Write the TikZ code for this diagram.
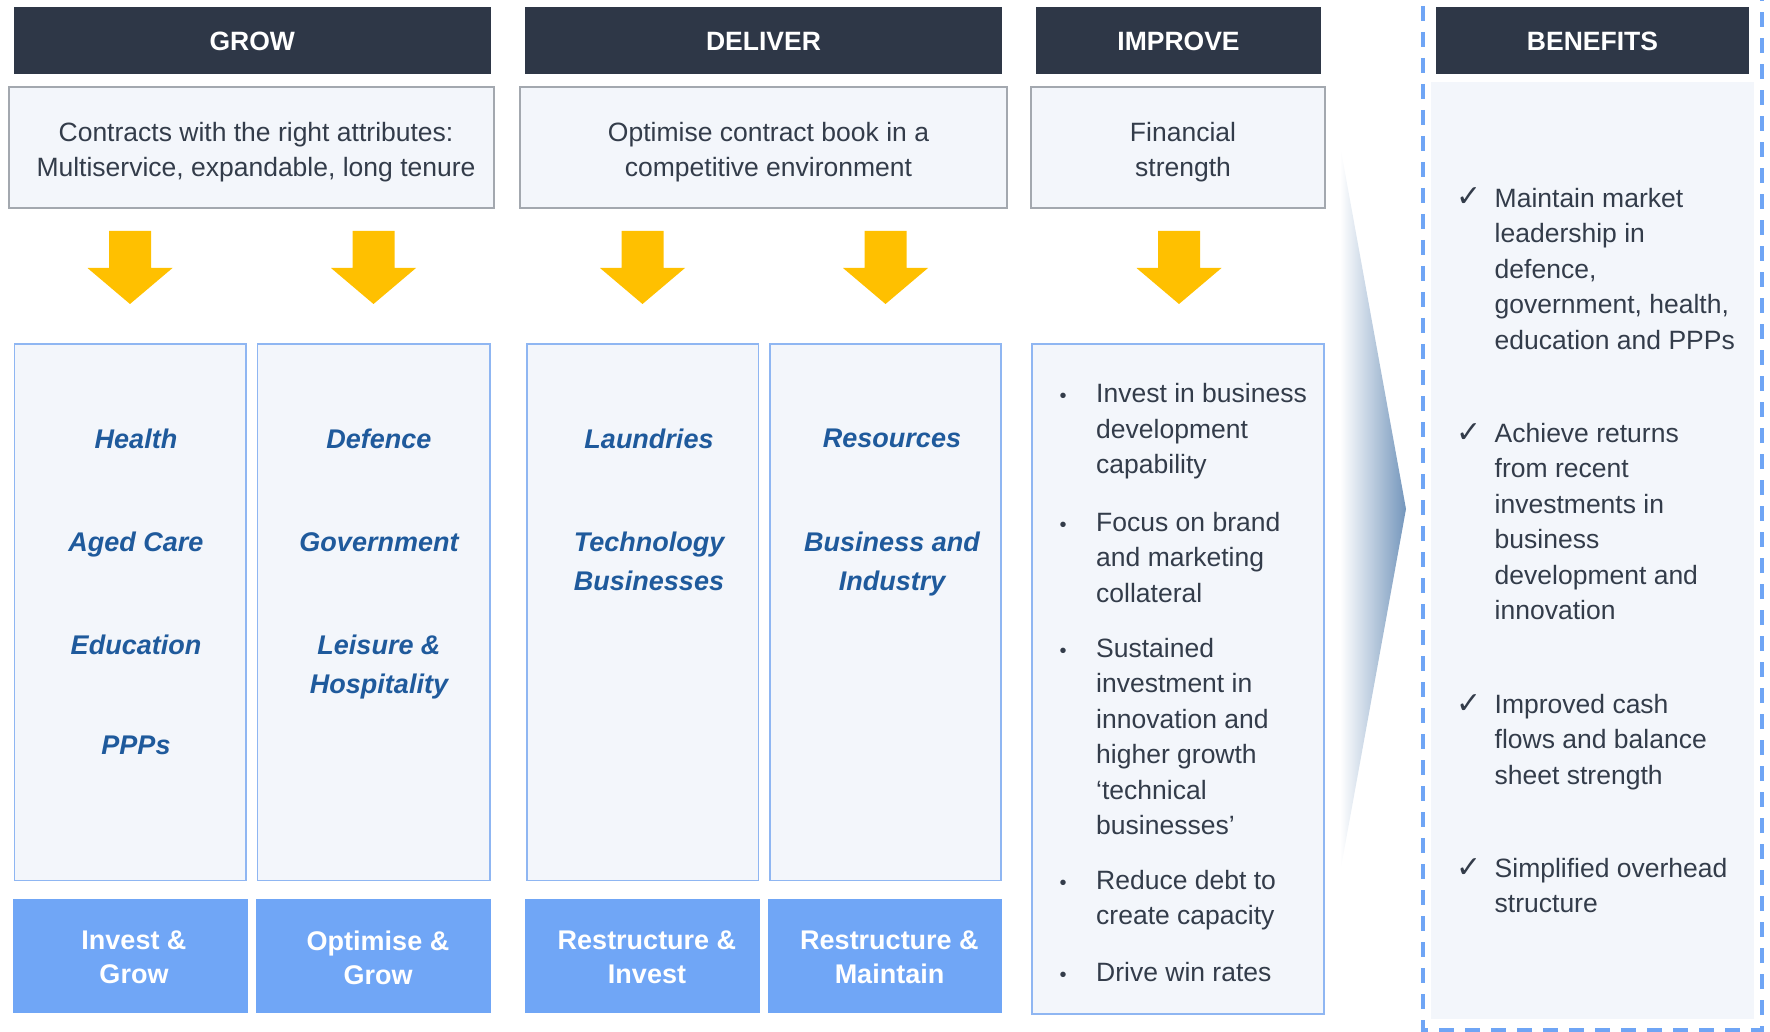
\documentclass[tikz,border=0pt]{standalone}
\usepackage{fontspec}
\setmainfont{Liberation Sans}
\newfontfamily\symfont{DejaVu Sans}

\definecolor{headbg}{HTML}{2E3747}
\definecolor{pale}{HTML}{F3F6FB}
\definecolor{greyline}{HTML}{A3A8AF}
\definecolor{boxline}{HTML}{8FB6F2}
\definecolor{gold}{HTML}{FFC000}
\definecolor{footblue}{HTML}{70A6F6}
\definecolor{ink}{HTML}{333C4A}
\definecolor{itemblue}{HTML}{1F5A9C}
\definecolor{dashblue}{HTML}{6FA5F5}
\definecolor{chevblue}{HTML}{7496BC}

\begin{document}
\begin{tikzpicture}[x=1pt, y=-1pt,
    every node/.style={inner sep=0pt, text=ink, font=\fontsize{26.5}{35.4}\selectfont},
    headtext/.style={text=white, font=\fontsize{26.5}{30}\selectfont\bfseries},
    subtext/.style={align=center, font=\fontsize{26.5}{34.4}\selectfont},
    sector/.style={anchor=north, align=center, text=itemblue, font=\fontsize{27}{38.3}\selectfont\bfseries\itshape},
    foottext/.style={align=center, text=white, font=\fontsize{27}{34}\selectfont\bfseries},
    pointtext/.style={anchor=north west, align=left},
    bulletdot/.style={anchor=base, font=\fontsize{20}{20}\selectfont},
    checkmk/.style={anchor=base, font=\fontsize{30}{30}\selectfont\symfont}]
  \useasboundingbox (0,0) rectangle (1770,1032);

  % benefits panel with dashed frame
  \fill[pale] (1431,82) rectangle (1754,1019);
  \draw[dashblue, line width=3.5, dash pattern=on 15 off 11] (1423,-20) rectangle (1762,1030);

  % fading chevron into the panel
  \shade[left color=white, right color=chevblue] (1340,145) -- (1406,509) -- (1340,873) -- cycle;

  % header bars
  \fill[headbg] (13.5,7) rectangle (491,74.5);
  \fill[headbg] (525,7) rectangle (1002,74.5);
  \fill[headbg] (1036,7) rectangle (1321,74.5);
  \fill[headbg] (1436,7) rectangle (1749,74.5);
  \node[headtext] (grow) at (252.25,41.5) {GROW};
  \node[headtext] (deliver) at (763.5,41.5) {DELIVER};
  \node[headtext] (improve) at (1178.5,41.5) {IMPROVE};
  \node[headtext] (benefits) at (1592.5,41.5) {BENEFITS};

  % aims
  \draw[greyline, fill=pale, line width=1.2] (9,87) rectangle (494,208);
  \draw[greyline, fill=pale, line width=1.2] (520,87) rectangle (1007,208);
  \draw[greyline, fill=pale, line width=1.2] (1031,87) rectangle (1325,208);
  \node[subtext] (growsub) at (256,152) {Contracts with the right attributes:\\Multiservice, expandable, long tenure};
  \node[subtext] (deliversub) at (768.5,152) {Optimise contract book in a\\competitive environment};
  \node[subtext] (improvesub) at (1183,152) {Financial\\strength};

  % down arrows
  \fill[gold] (109,231) -- (151,231) -- (151,268) -- (172.5,268) -- (130,304) -- (87.5,268) -- (109,268) -- cycle;
  \fill[gold] (352.5,231) -- (394.5,231) -- (394.5,268) -- (416,268) -- (373.5,304) -- (331,268) -- (352.5,268) -- cycle;
  \fill[gold] (621.5,231) -- (663.5,231) -- (663.5,268) -- (685,268) -- (642.5,304) -- (600,268) -- (621.5,268) -- cycle;
  \fill[gold] (864.5,231) -- (906.5,231) -- (906.5,268) -- (928,268) -- (885.5,304) -- (843,268) -- (864.5,268) -- cycle;
  \fill[gold] (1158,231) -- (1200,231) -- (1200,268) -- (1221.5,268) -- (1179,304) -- (1136.5,268) -- (1158,268) -- cycle;

  % sector columns
  \draw[boxline, fill=pale, line width=1.5] (14.5,344) rectangle (246,880.5);
  \draw[boxline, fill=pale, line width=1.5] (257.5,344) rectangle (490,880.5);
  \draw[boxline, fill=pale, line width=1.5] (527,344) rectangle (758.5,880.5);
  \draw[boxline, fill=pale, line width=1.5] (770,344) rectangle (1001,880.5);
  \draw[boxline, fill=pale, line width=1.5] (1032,344) rectangle (1324,1014);

  \node[sector] (health) at (136,429) {Health};
  \node[sector] (agedcare) at (136,532) {Aged Care};
  \node[sector] (education) at (136,635) {Education};
  \node[sector] (ppps) at (136,736) {PPPs};
  \node[sector] (defence) at (379,429) {Defence};
  \node[sector] (government) at (379,532) {Government};
  \node[sector] (leisure) at (379,635) {Leisure \&\\Hospitality};
  \node[sector] (laundries) at (649,429) {Laundries};
  \node[sector] (technology) at (649,532) {Technology\\Businesses};
  \node[sector] (resources) at (892,429) {Resources};
  \node[sector] (business) at (892,532) {Business and\\Industry};

  % improve actions
  \node[bulletdot] (dot1) at (1063,402.5) {•};
  \node[bulletdot] (dot2) at (1063,531) {•};
  \node[bulletdot] (dot3) at (1063,657) {•};
  \node[bulletdot] (dot4) at (1063,889) {•};
  \node[bulletdot] (dot5) at (1063,981.5) {•};
  \node[pointtext] (invest) at (1096,383.5) {Invest in business\\development\\capability};
  \node[pointtext] (focus) at (1096,512) {Focus on brand\\and marketing\\collateral};
  \node[pointtext] (sustain) at (1096,638) {Sustained\\investment in\\innovation and\\higher growth\\‘technical\\businesses’};
  \node[pointtext] (debt) at (1096,870) {Reduce debt to\\create capacity};
  \node[pointtext] (winrates) at (1096,962.5) {Drive win rates};

  % benefits list
  \node[checkmk] (chk1) at (1469,207) {✓};
  \node[checkmk] (chk2) at (1469,442) {✓};
  \node[checkmk] (chk3) at (1469,713) {✓};
  \node[checkmk] (chk4) at (1469,877) {✓};
  \node[pointtext] (leader) at (1494.5,188) {Maintain market\\leadership in\\defence,\\government, health,\\education and PPPs};
  \node[pointtext] (returns) at (1494.5,423) {Achieve returns\\from recent\\investments in\\business\\development and\\innovation};
  \node[pointtext] (cash) at (1494.5,694) {Improved cash\\flows and balance\\sheet strength};
  \node[pointtext] (overhead) at (1494.5,858) {Simplified overhead\\structure};

  % strategy footers
  \fill[footblue] (13,898.5) rectangle (248,1013);
  \fill[footblue] (256,898.5) rectangle (491,1013);
  \fill[footblue] (525,898.5) rectangle (760,1013);
  \fill[footblue] (767.5,898.5) rectangle (1002,1013);
  \node[foottext] (investgrow) at (134,957.4) {Invest \&\\Grow};
  \node[foottext] (optimisegrow) at (378,957.4) {Optimise \&\\Grow};
  \node[foottext] (restinvest) at (647,957.4) {Restructure \&\\Invest};
  \node[foottext] (restmaintain) at (889.5,957.4) {Restructure \&\\Maintain};
\end{tikzpicture}
\end{document}
